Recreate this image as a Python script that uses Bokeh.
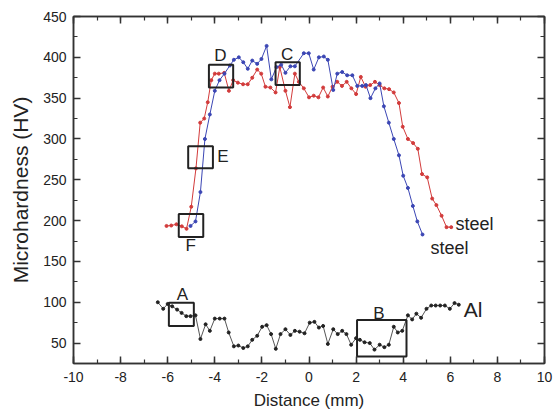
from bokeh.plotting import figure
from bokeh.models import LinearAxis, Range1d, SingleIntervalTicker, CustomJSTickFormatter
from bokeh.core.properties import value
from bokeh.embed import file_html
from bokeh.resources import INLINE

# ---- data ----
red_x = [-6.05, -5.85, -5.63, -5.4, -5.2, -5.0, -4.8, -4.62, -4.45, -4.3, -4.15, -4.0, -3.83, -3.6,
         -3.4, -3.22, -3.02, -2.8, -2.6, -2.41, -2.2, -2.03, -1.85, -1.64, -1.42, -1.24, -1.0, -0.81,
         -0.6, -0.43, -0.22, 0.0, 0.2, 0.4, 0.6, 0.8, 1.0, 1.2, 1.4, 1.6, 1.8, 2.0, 2.2, 2.4, 2.6,
         2.8, 3.0, 3.2, 3.4, 3.6, 3.82, 3.98, 4.2, 4.42, 4.62, 4.8, 5.02, 5.23, 5.41, 5.63, 5.84, 6.04]
red_y = [193.5, 194, 195.5, 193, 190, 217, 264, 320, 325, 345, 372, 380, 380, 381,
         359, 372, 369, 367, 367, 375, 385, 380, 364, 363, 357, 388, 359, 339,
         380, 370, 362, 351, 353, 351, 363, 352, 364, 370, 365, 370, 362, 355, 376, 364, 366,
         370, 366, 362, 361, 357, 344, 315, 300, 295, 288, 257, 253, 227, 219, 206, 192, 192]

blue_x = [-5.03, -4.82, -4.61, -4.42, -4.21, -4.0, -3.8, -3.59, -3.36, -3.19, -2.98, -2.79, -2.6,
          -2.41, -2.2, -2.02, -1.8, -1.6, -1.38, -1.18, -1.0, -0.79, -0.6, -0.22, -0.01, 0.2, 0.42,
          0.63, 0.8, 1.03, 1.2, 1.41, 1.62, 1.84, 2.05, 2.26, 2.42, 2.61, 2.82, 3.0, 3.18, 3.39,
          3.6, 3.82, 4.0, 4.2, 4.41, 4.6, 4.82]
blue_y = [193.5, 199, 235, 300, 330, 359, 372, 380, 390, 397, 400, 394, 386,
          396, 392, 398, 414, 373, 388, 391, 381, 389, 389, 405, 405, 385, 400,
          401, 397, 360, 380, 382, 378, 378, 365, 365, 366, 350, 362, 368, 340, 320,
          300, 280, 255, 240, 218, 199, 183]

al_x = [-6.42, -6.19, -6.0, -5.81, -5.6, -5.41, -5.21, -5.03, -4.82, -4.61, -4.39, -4.21, -4.0,
        -3.79, -3.59, -3.41, -3.19, -3.0, -2.79, -2.6, -2.41, -2.2, -1.99, -1.8, -1.61, -1.41,
        -1.21, -1.0, -0.79, -0.6, -0.4, -0.19, 0.03, 0.23, 0.42, 0.6, 0.8, 1.03, 1.22, 1.41, 1.59,
        1.79, 2.0, 2.16, 2.36, 2.58, 2.78, 3.0, 3.2, 3.39, 3.6, 3.77, 3.96, 4.2, 4.38, 4.56, 4.76,
        4.99, 5.19, 5.38, 5.57, 5.77, 5.98, 6.18, 6.36]
al_y = [100, 92, 98, 95, 91, 87, 83, 83, 84, 55, 73, 65, 80,
        80, 80, 63, 46, 47, 44, 46, 54, 59, 70, 72, 61, 43,
        61, 67, 60, 65, 64, 62, 75, 76, 69, 71, 49, 67, 61, 65, 61,
        48, 56, 54, 51, 50, 42, 48, 45, 48, 70, 63, 65, 84, 79, 86, 81,
        92, 96, 96, 96, 96, 92, 99, 97]

# marked regions (boxes) and their letters
box_names = ["A", "B", "C", "D", "E", "F"]
box_x0 = [-5.95, 2.04, -1.42, -4.25, -5.13, -5.53]
box_x1 = [-4.89, 4.14, -0.39, -3.22, -4.08, -4.49]
box_y0 = [71, 33.5, 366, 363, 264, 180]
box_y1 = [99.3, 78.4, 394, 391, 291, 208]
letter_x = [-5.38, 2.97, -0.93, -3.76, -3.66, -5.02]
letter_y = [109.5, 86.5, 404, 402, 278, 169]

series_labels = ["steel", "steel", "Al"]
series_label_x = [6.22, 5.16, 6.57]
series_label_y = [196, 166, 91]

x_ticks_interval = 2
y_ticks_interval = 50

FONT = "Liberation Sans"
RED = "#d23b3b"
BLUE = "#3b46b4"
BLACK = "#222222"
GRAYLINE = "#555555"
AXC = "#333333"

p = figure(width=557, height=412, x_range=Range1d(-10, 10), y_range=Range1d(25, 450),
           output_backend="svg", toolbar_location=None,
           min_border_left=73, min_border_right=13, min_border_top=16, min_border_bottom=46,
           x_axis_label="Distance (mm)", y_axis_label="Microhardness (HV)")
p.grid.visible = False
p.outline_line_color = AXC
p.outline_line_width = 1.5
p.background_fill_color = "white"
p.border_fill_color = "white"

plain = CustomJSTickFormatter(code="return tick.toString();")
blank = CustomJSTickFormatter(code="return '';")


def style_axis(ax, interval, show):
    ax.ticker = SingleIntervalTicker(interval=interval, num_minor_ticks=2)
    ax.major_tick_in = 7
    ax.major_tick_out = 0
    ax.minor_tick_in = 4
    ax.minor_tick_out = 0
    ax.axis_line_color = AXC
    ax.axis_line_width = 1.5
    ax.major_tick_line_color = AXC
    ax.major_tick_line_width = 1.5
    ax.minor_tick_line_color = AXC
    ax.minor_tick_line_width = 1.2
    ax.major_label_text_font = FONT
    ax.major_label_text_color = "#222222"
    ax.major_label_text_font_size = "14px"
    ax.axis_label_text_font = FONT
    ax.axis_label_text_font_style = "normal"
    ax.axis_label_text_color = "#222222"
    if show:
        ax.formatter = plain
    else:
        ax.formatter = blank
        ax.major_label_standoff = 0


style_axis(p.xaxis[0], x_ticks_interval, True)
style_axis(p.yaxis[0], y_ticks_interval, True)
p.xaxis[0].major_label_standoff = 8
p.xaxis[0].axis_label_standoff = 6
p.xaxis[0].axis_label_text_font_size = "17px"
p.yaxis[0].major_label_standoff = 7
p.yaxis[0].axis_label_standoff = 8
p.yaxis[0].axis_label_text_font_size = "21px"

top = LinearAxis()
style_axis(top, x_ticks_interval, False)
p.add_layout(top, "above")
right = LinearAxis()
style_axis(right, y_ticks_interval, False)
p.add_layout(right, "right")

# series
p.line(red_x, red_y, line_color=RED, line_width=1)
p.scatter(red_x, red_y, size=3, fill_color=RED, line_color=RED)
p.line(blue_x, blue_y, line_color=BLUE, line_width=1)
p.scatter(blue_x, blue_y, size=3, fill_color=BLUE, line_color=BLUE)
p.line(al_x, al_y, line_color=GRAYLINE, line_width=1)
p.scatter(al_x, al_y, size=3, fill_color=BLACK, line_color=BLACK)

# boxes
p.quad(left=box_x0, right=box_x1, bottom=box_y0, top=box_y1, fill_alpha=0,
       line_color="#222222", line_width=2)
p.text(x=letter_x, y=letter_y, text=box_names, text_font=value(FONT), text_font_size="17px",
       text_align="center", text_baseline="middle", text_color="#222222")

p.text(x=series_label_x, y=series_label_y, text=series_labels, text_font=value(FONT),
       text_font_size=["18px", "18px", "21px"], text_align="left", text_baseline="middle",
       text_color="#222222")

open("out.html", "w").write(file_html(p, INLINE))
